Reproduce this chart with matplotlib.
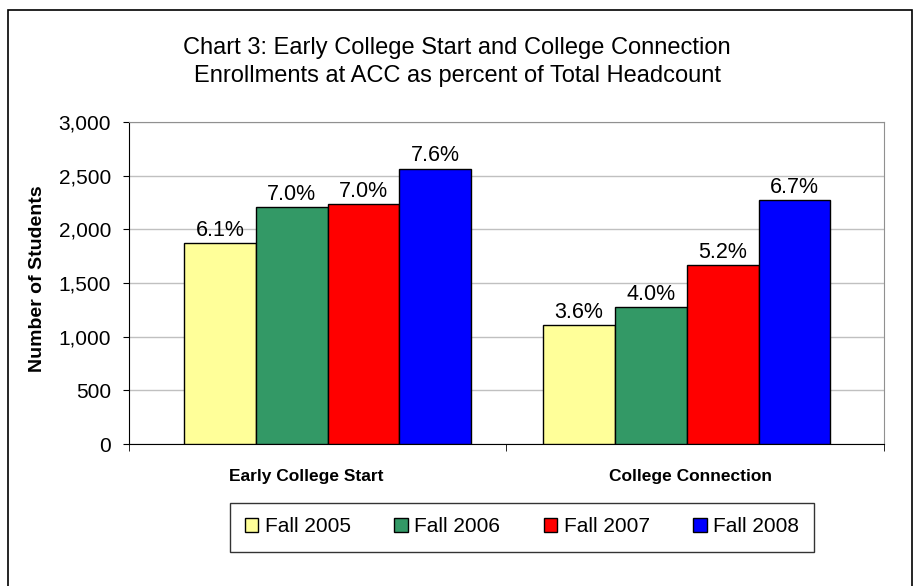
import numpy as np
import matplotlib
matplotlib.use('Agg')
from matplotlib import pyplot as plt
from matplotlib.patches import Rectangle

plt.rcParams['font.family'] = ['Liberation Sans', 'DejaVu Sans']

# data
categories = ['Early College Start', 'College Connection']
years = ['Fall 2005', 'Fall 2006', 'Fall 2007', 'Fall 2008']
students = {
    'Fall 2005': [1871, 1107],
    'Fall 2006': [2204, 1278],
    'Fall 2007': [2236, 1668],
    'Fall 2008': [2566, 2269],
}
pct_labels = {
    'Fall 2005': ['6.1%', '3.6%'],
    'Fall 2006': ['7.0%', '4.0%'],
    'Fall 2007': ['7.0%', '5.2%'],
    'Fall 2008': ['7.6%', '6.7%'],
}
colors = ['#FFFF99', '#339966', '#FF0000', '#0000FF']

fig = plt.figure(figsize=(9.14, 5.86), dpi=100)
ax = fig.add_axes([129/914, 142/586, 755/914, 322/586])

x = np.arange(len(categories))
w = 0.2
for i, yr in enumerate(years):
    bars = ax.bar(x + (i - 1.5)*w, students[yr], w, color=colors[i],
                  edgecolor='black', linewidth=1, label=yr, zorder=3)
    ax.bar_label(bars, labels=pct_labels[yr], padding=1.5, fontsize=15.5)

ax.set_xlim(-0.553, 1.549)
ax.set_ylim(0, 3000)
ax.set_yticks(np.arange(0, 3001, 500))
ax.set_yticklabels([f'{v:,}' for v in range(0, 3001, 500)], fontsize=15)
ax.yaxis.grid(True, color='#c0c0c0', linewidth=1, zorder=0)
ax.tick_params(axis='y', length=4, pad=9, color='black')

# category labels sit a little left of the bar groups, as in the original
ax.set_xticks([-0.06, 1.01])
ax.set_xticklabels(categories, fontsize=12.5, fontweight='bold')
ax.tick_params(axis='x', which='major', length=0, pad=18)
ax.set_xticks([-0.553, 0.497, 1.549], minor=True)
ax.tick_params(axis='x', which='minor', length=5, color='black')

ax.set_ylabel('Number of Students', fontsize=14, fontweight='bold')
ax.yaxis.set_label_coords(-0.11, 0.514)

ax.spines['top'].set_color('#909090')
ax.spines['right'].set_color('#909090')
ax.spines['left'].set_color('black')
ax.spines['bottom'].set_color('black')

fig.text(0.5, 1 - 62/586, 'Chart 3: Early College Start and College Connection\n'
         'Enrollments at ACC as percent of Total Headcount',
         ha='center', va='center', fontsize=17, linespacing=1.32)

leg = fig.legend(loc='center', bbox_to_anchor=(522/914, 1 - 527/586), ncol=4,
                 fontsize=15, frameon=True, fancybox=False, handlelength=0.65,
                 handleheight=0.65, handletextpad=0.3, columnspacing=2.1,
                 borderpad=0.72)
leg.get_frame().set_edgecolor('black')
leg.get_frame().set_linewidth(1)

# outer chart frame
fig.add_artist(Rectangle((8/914, -0.01), 904/914, 1 - 10/586 + 0.01,
                         transform=fig.transFigure, fill=False,
                         edgecolor='black', linewidth=1.2))

plt.savefig('out.png', dpi=100)
